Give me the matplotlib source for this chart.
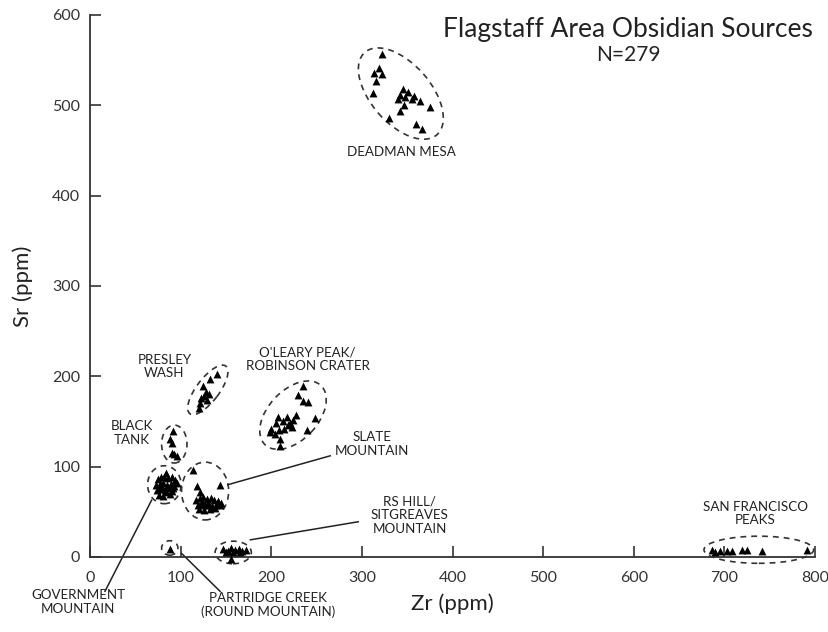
import matplotlib
matplotlib.use('Agg')
import matplotlib.pyplot as plt
from matplotlib.patches import Ellipse

plt.rcParams['font.family'] = ['Lato', 'DejaVu Sans']

# Zr / Sr values (ppm), per source
deadman_zr = [322, 319, 313, 322, 316, 312, 345, 351, 342, 348, 355, 340, 364, 357, 346, 375, 342, 330, 360, 366]
deadman_sr = [557, 541, 536, 535, 527, 514, 518, 515, 511, 509, 507, 507, 505, 510, 500, 498, 494, 486, 479, 474]

presley_zr = [140, 132, 125, 128, 123, 129, 121, 120, 126, 131]
presley_sr = [203, 197, 189, 183, 176, 174, 170, 165, 178, 180]

blacktank_zr = [92, 88, 91, 90, 96, 93]
blacktank_sr = [139, 131, 126, 115, 112, 114]

govt_zr = [84, 75, 78, 82, 86, 90, 94, 73, 77, 81, 85, 89, 93, 96, 74, 79, 83, 87, 91, 76, 80, 88, 92, 78, 84]
govt_sr = [93, 86, 88, 89, 87, 88, 85, 80, 81, 82, 80, 81, 79, 82, 74, 75, 74, 76, 73, 69, 68, 70, 76, 78, 72]

slate_zr = [114, 118, 143, 121, 117, 121, 125, 129, 133, 137, 141, 145, 119, 123, 127, 131, 135, 139, 143, 120, 126, 132, 138, 124, 130]
slate_sr = [96, 79, 80, 72, 63, 65, 66, 64, 65, 63, 62, 60, 58, 59, 57, 58, 56, 58, 57, 53, 52, 53, 54, 61, 60]

oleary_zr = [235, 230, 235, 240, 207, 217, 227, 248, 205, 213, 221, 200, 208, 214, 223, 239, 199, 204, 210, 210, 224, 218]
oleary_sr = [189, 179, 173, 172, 155, 155, 157, 154, 148, 150, 148, 142, 141, 142, 144, 141, 138, 136, 131, 123, 152, 146]

partridge_zr = [88]
partridge_sr = [9]

rshill_zr = [147, 152, 156, 160, 164, 168, 172, 150, 158, 166, 156]
rshill_sr = [9, 7, 10, 8, 9, 7, 8, 5, 6, 5, -2]

sfpeaks_zr = [686, 690, 695, 703, 708, 719, 725, 741, 791]
sfpeaks_sr = [8, 6, 7, 7, 7, 8, 8, 7, 8]

x_ticks = [0, 100, 200, 300, 400, 500, 600, 700, 800]
y_ticks = [0, 100, 200, 300, 400, 500, 600]

# ellipse: center x, center y, width, height, angle
rings = [
    (343, 513, 121, 66, -49),
    (130, 185, 66, 25, 53),
    (93, 125, 28, 42, 0),
    (82, 80, 37, 42, 0),
    (127, 73, 52, 64, 0),
    (224, 157, 90, 55, 47),
    (88, 10, 18, 16, 0),
    (158, 5, 40, 25, 0),
    (738, 8, 121, 30, 0),
]

fig = plt.figure(figsize=(8.29, 6.32), dpi=100)
ax = fig.add_axes([0.1086, 0.1187, 0.8745, 0.8576])

groups = [
    (deadman_zr, deadman_sr), (presley_zr, presley_sr), (blacktank_zr, blacktank_sr),
    (govt_zr, govt_sr), (slate_zr, slate_sr), (oleary_zr, oleary_sr),
    (partridge_zr, partridge_sr), (rshill_zr, rshill_sr), (sfpeaks_zr, sfpeaks_sr),
]
for gx, gy in groups:
    ax.scatter(gx, gy, marker='^', s=32, c='black', linewidths=0, zorder=3, clip_on=False)

for cx, cy, w, h, ang in rings:
    ax.add_patch(Ellipse((cx, cy), w, h, angle=ang, fill=False, ec='#333333',
                         lw=1.2, ls=(0, (3.5, 3)), clip_on=False, zorder=2))

lab = dict(ha='center', va='center', fontsize=9.6, color='#222222', linespacing=1.15)
ax.text(344, 448, 'DEADMAN MESA', **lab)
ax.text(82, 211, 'PRESLEY\nWASH', **lab)
ax.text(240, 219, "O'LEARY PEAK/\nROBINSON CRATER", **lab)
ax.text(46, 137, 'BLACK\nTANK', **lab)
ax.text(311, 125, 'SLATE\nMOUNTAIN', **lab)
ax.text(353, 46, 'RS HILL/\nSITGREAVES\nMOUNTAIN', **lab)
ax.text(734, 48, 'SAN FRANCISCO\nPEAKS', **lab)
ax.text(-13, -50, 'GOVERNMENT\nMOUNTAIN', **lab)
ax.text(196, -53, 'PARTRIDGE CREEK\n(ROUND MOUNTAIN)', **lab)

# leader lines
leaders = [
    ([152, 265], [80, 112]),
    ([177, 296], [19, 39]),
    ([68, 16.5], [63, -38]),
    ([101, 143.5], [4, -38]),
]
for lx, ly in leaders:
    ax.plot(lx, ly, color='#222222', lw=1.1, clip_on=False)

ax.text(0.742, 0.973, 'Flagstaff Area Obsidian Sources', transform=ax.transAxes,
        ha='center', va='center', fontsize=19, color='#222222')
ax.text(0.742, 0.927, 'N=279', transform=ax.transAxes,
        ha='center', va='center', fontsize=15, color='#222222')

ax.set_xlim(0, 800)
ax.set_ylim(0, 600)
ax.set_xticks(x_ticks)
ax.set_yticks(y_ticks)
ax.tick_params(direction='in', length=8, width=1.2, labelsize=11.5,
               labelcolor='#333333', color='#333333')
ax.tick_params(axis='x', pad=10)
ax.tick_params(axis='y', pad=7)
ax.spines['top'].set_visible(False)
ax.spines['right'].set_visible(False)
for s in ['left', 'bottom']:
    ax.spines[s].set_linewidth(1.3)
    ax.spines[s].set_color('#333333')

ax.set_xlabel('Zr (ppm)', fontsize=16, color='#222222', labelpad=6)
ax.set_ylabel('Sr (ppm)', fontsize=16, color='#222222', labelpad=14)

fig.savefig('out.png', dpi=100)
